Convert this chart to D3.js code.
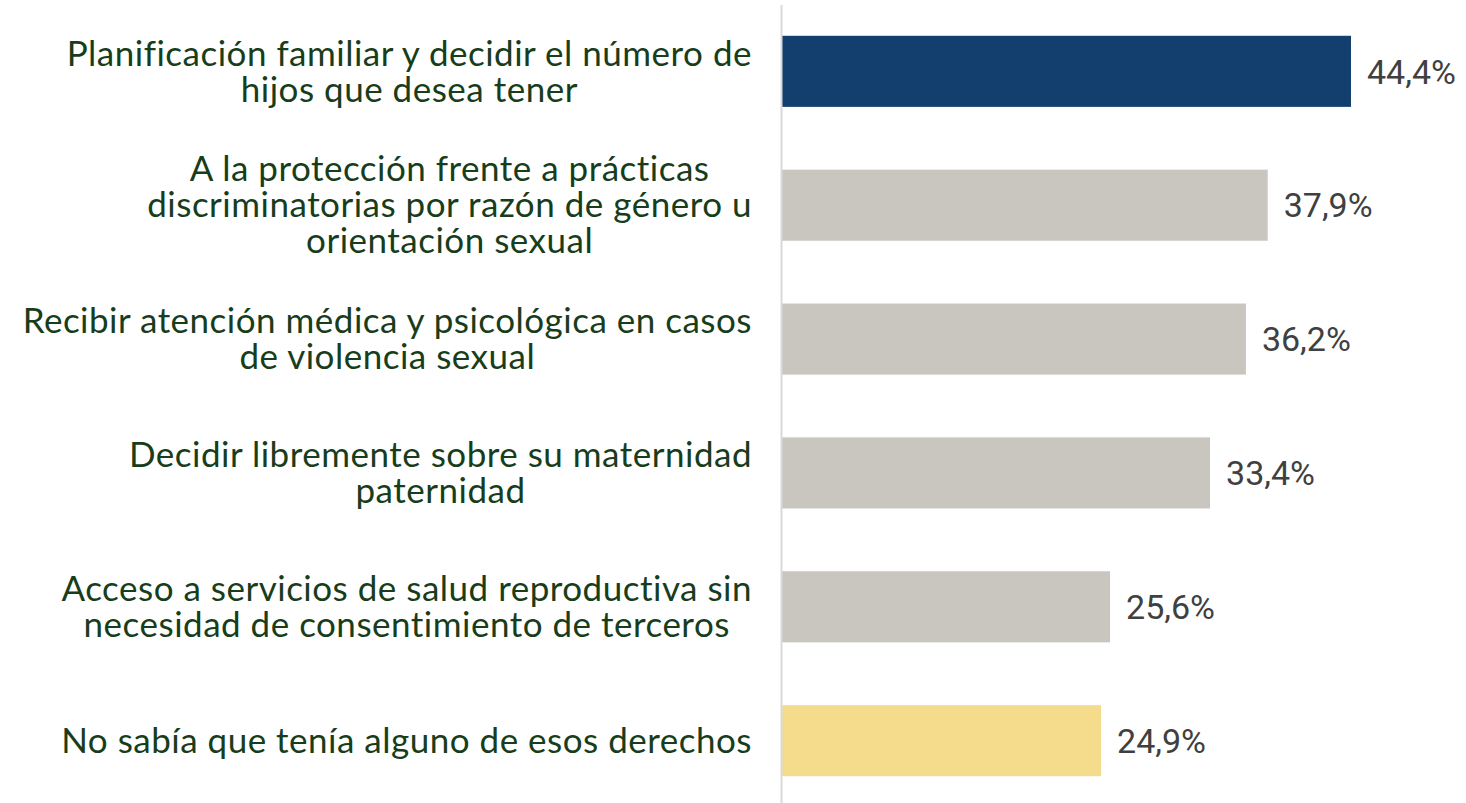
<!DOCTYPE html>
<html>
<head>
<meta charset="utf-8">
<script src="https://cdn.jsdelivr.net/npm/d3@7"></script>
<style>
  body { margin: 0; background: #fff; }
</style>
</head>
<body>
<script>
// chart size
const width = 1466;
const height = 803;

// data
const categories = [
  ["Planificación familiar y decidir el número de", "hijos que desea tener"],
  ["A la protección frente a prácticas", "discriminatorias por razón de género u", "orientación sexual"],
  ["Recibir atención médica y psicológica en casos", "de violencia sexual"],
  ["Decidir libremente sobre su maternidad", "paternidad"],
  ["Acceso a servicios de salud reproductiva sin", "necesidad de consentimiento de terceros"],
  ["No sabía que tenía alguno de esos derechos"]
];
const values = [44.4, 37.9, 36.2, 33.4, 25.6, 24.9];
const barColors = ["#123f6e", "#c8c6bf", "#c8c6bf", "#c8c6bf", "#c8c6bf", "#f5dc8c"];

const svg = d3.select("body").append("svg")
  .attr("width", width)
  .attr("height", height);

// scales
const x = d3.scaleLinear()
  .domain([0, 44.4])
  .range([782, 1351]);

const y = d3.scaleBand()
  .domain(d3.range(values.length))
  .range([5, 807])
  .paddingInner(0.469)
  .paddingOuter(0.23);

// bars
svg.selectAll("rect.bar")
  .data(values)
  .enter().append("rect")
  .attr("class", "bar")
  .attr("x", x(0))
  .attr("y", (d, i) => y(i))
  .attr("width", d => x(d) - x(0))
  .attr("height", y.bandwidth())
  .style("fill", (d, i) => barColors[i]);

// vertical axis line
svg.append("line")
  .attr("x1", 781.5).attr("x2", 781.5)
  .attr("y1", 5).attr("y2", height)
  .style("stroke", "#d9d9d9")
  .style("stroke-width", 2);

// value labels
const fmt = d => d.toFixed(1).replace(".", ",") + "%";
svg.selectAll("text.value")
  .data(values)
  .enter().append("text")
  .attr("class", "value")
  .attr("x", d => x(d) + 16)
  .attr("y", (d, i) => y(i) + y.bandwidth() / 2)
  .attr("dy", "0.36em")
  .style("font-family", "Roboto, sans-serif")
  .style("font-size", "34px")
  .style("fill", "#404040")
  .text(fmt);

// category labels: block right aligned at 752, lines centred inside the block
const lineH = 36;
const rightEdge = 752;
const labels = svg.selectAll("text.cat")
  .data(categories)
  .enter().append("text")
  .attr("class", "cat")
  .attr("text-anchor", "middle")
  .style("font-family", "Lato, sans-serif")
  .style("font-size", "35px")
  .style("letter-spacing", "0.5px")
  .style("fill", "#173d1b");

labels.each(function (lines, i) {
  const c = y(i) + y.bandwidth() / 2;
  const t = d3.select(this);
  const spans = t.selectAll("tspan")
    .data(lines)
    .enter().append("tspan")
    .attr("y", (d, j) => c + (j - (lines.length - 1) / 2) * lineH)
    .attr("dy", "0.35em")
    .text(d => d);
  const maxW = d3.max(spans.nodes(), n => n.getComputedTextLength());
  spans.attr("x", rightEdge - maxW / 2);
});
</script>
</body>
</html>
